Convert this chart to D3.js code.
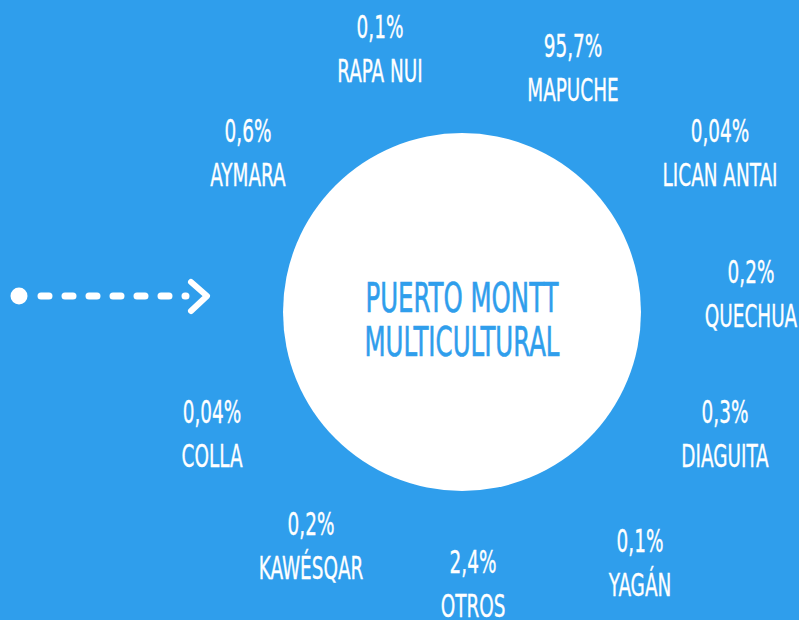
<!DOCTYPE html>
<html><head><meta charset="utf-8">
<script src="https://cdn.jsdelivr.net/npm/d3@7"></script>
<style>html,body{margin:0;padding:0;background:#2F9EEC;}svg{display:block;}</style>
</head><body>
<script>
// Data
const groups = ["RAPA NUI","MAPUCHE","LICAN ANTAI","QUECHUA","DIAGUITA","YAGÁN","OTROS","KAWÉSQAR","COLLA","AYMARA"];
const percents = ["0,1%","95,7%","0,04%","0,2%","0,3%","0,1%","2,4%","0,2%","0,04%","0,6%"];
const centerTitle = ["PUERTO MONTT","MULTICULTURAL"];
// Layout (label anchor: centre x, baseline of percent line)
const labelX = [380,573,720,751,725,640,473,311,212,248];
const labelY = [38,57,142,283,423,552,573,535,423,142];

const W=799,H=620, bg="#2F9EEC";
const svg=d3.select("body").append("svg").attr("width",W).attr("height",H);
svg.append("rect").attr("width",W).attr("height",H).attr("fill",bg);

const font='"DejaVu Sans Condensed","Liberation Sans Narrow",sans-serif';
const sx=0.64;

// central circle
svg.append("circle").attr("cx",462).attr("cy",312).attr("r",179).attr("fill","#fff");
svg.selectAll("text.ct").data(centerTitle).join("text").attr("class","ct")
  .attr("transform",(d,i)=>`translate(462,${312+(i===0?0:44)}) scale(0.68,1)`)
  .attr("text-anchor","middle").attr("font-family",font).attr("font-size",40)
  .attr("fill",bg).attr("stroke",bg).attr("stroke-width",0.6).text(d=>d);

// labels
const g=svg.selectAll("g.lab").data(groups).join("g").attr("class","lab")
  .attr("transform",(d,i)=>`translate(${labelX[i]},${labelY[i]}) scale(${sx},1)`);
g.append("text").attr("text-anchor","middle").attr("font-family",font).attr("font-size",32)
  .attr("fill","#fff").attr("stroke","#fff").attr("stroke-width",0.35).text((d,i)=>percents[i]);
g.append("text").attr("y",44).attr("text-anchor","middle").attr("font-family",font).attr("font-size",32)
  .attr("fill","#fff").attr("stroke","#fff").attr("stroke-width",0.35).text(d=>d);

// arrow
const a=svg.append("g");
a.append("circle").attr("cx",19).attr("cy",296).attr("r",8.5).attr("fill","#fff");
a.append("line").attr("x1",41).attr("x2",186).attr("y1",296).attr("y2",296)
  .attr("stroke","#fff").attr("stroke-width",7).attr("stroke-linecap","round").attr("stroke-dasharray","8 16");
a.append("path").attr("d","M191,282L207,296L191,311").attr("fill","none").attr("stroke","#fff")
  .attr("stroke-width",6).attr("stroke-linecap","round").attr("stroke-linejoin","round");
</script>
</body></html>
